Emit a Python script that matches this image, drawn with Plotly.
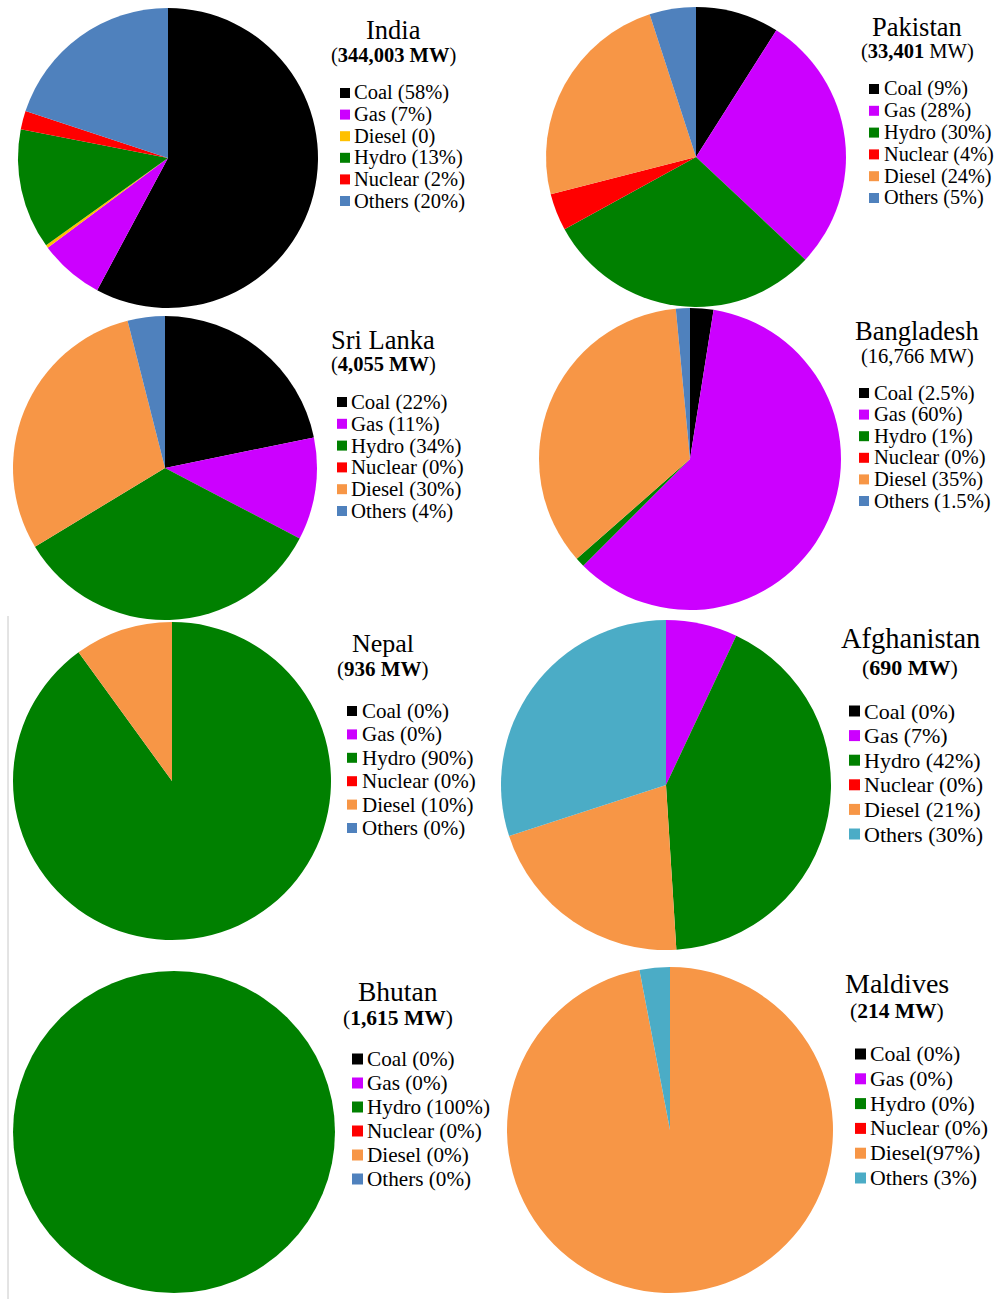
import plotly.graph_objects as go

# ---------------- data ----------------
order_a = ["Coal", "Gas", "Diesel", "Hydro", "Nuclear", "Others"]
order_b = ["Coal", "Gas", "Hydro", "Nuclear", "Diesel", "Others"]

india_vals = [58, 7, 0.3, 13, 2, 20]
india_labels = ["Coal (58%)", "Gas (7%)", "Diesel (0)", "Hydro (13%)", "Nuclear (2%)", "Others (20%)"]

pakistan_vals = [9, 28, 30, 4, 24, 5]
pakistan_labels = ["Coal (9%)", "Gas (28%)", "Hydro (30%)", "Nuclear (4%)", "Diesel (24%)", "Others (5%)"]

srilanka_vals = [22, 11, 34, 0, 30, 4]
srilanka_labels = ["Coal (22%)", "Gas (11%)", "Hydro (34%)", "Nuclear (0%)", "Diesel (30%)", "Others (4%)"]

bangladesh_vals = [2.5, 60, 1, 0, 35, 1.5]
bangladesh_labels = ["Coal (2.5%)", "Gas (60%)", "Hydro (1%)", "Nuclear (0%)", "Diesel (35%)", "Others (1.5%)"]

nepal_vals = [0, 0, 90, 0, 10, 0]
nepal_labels = ["Coal (0%)", "Gas (0%)", "Hydro (90%)", "Nuclear (0%)", "Diesel (10%)", "Others (0%)"]

afghanistan_vals = [0, 7, 42, 0, 21, 30]
afghanistan_labels = ["Coal (0%)", "Gas (7%)", "Hydro (42%)", "Nuclear (0%)", "Diesel (21%)", "Others (30%)"]

bhutan_vals = [0, 0, 100, 0, 0, 0]
bhutan_labels = ["Coal (0%)", "Gas (0%)", "Hydro (100%)", "Nuclear (0%)", "Diesel (0%)", "Others (0%)"]

maldives_vals = [0, 0, 0, 0, 97, 3]
maldives_labels = ["Coal (0%)", "Gas (0%)", "Hydro (0%)", "Nuclear (0%)", "Diesel(97%)", "Others (3%)"]

titles = ["India", "Pakistan", "Sri Lanka", "Bangladesh", "Nepal", "Afghanistan", "Bhutan", "Maldives"]
subtitles = ["(<b>344,003 MW</b>)", "(<b>33,401</b> MW)", "(<b>4,055 MW</b>)", "(16,766 MW)",
             "(<b>936 MW</b>)", "(<b>690 MW</b>)", "(<b>1,615 MW</b>)", "(<b>214 MW</b>)"]

# ---------------- styles ----------------
W, H = 995, 1299
FONT = "Liberation Serif, Times New Roman, serif"
base_colors = {"Coal": "#000000", "Gas": "#CC00FF", "Diesel": "#F79646", "Hydro": "#008000",
               "Nuclear": "#FF0000", "Others": "#4F81BD"}
india_colors = dict(base_colors, Diesel="#FFC000")
teal_colors = dict(base_colors, Others="#4BACC6")

charts = [
    dict(v=india_vals, l=india_labels, o=order_a, c=india_colors, cx=168, cy=158, r=150,
         tx=393, ty=30, ts=26.5, sy=55, ss=20.5, sqx=340, lx=352, ly=93, dy=21.6, fs=20.5),
    dict(v=pakistan_vals, l=pakistan_labels, o=order_b, c=base_colors, cx=696, cy=157, r=150,
         tx=917, ty=27, ts=26.5, sy=52, ss=20.5, sqx=869, lx=882, ly=89, dy=21.8, fs=20.3),
    dict(v=srilanka_vals, l=srilanka_labels, o=order_b, c=base_colors, cx=165, cy=468, r=152,
         tx=383, ty=340, ts=26.5, sy=364, ss=20.5, sqx=337, lx=349, ly=402, dy=21.8, fs=20.8),
    dict(v=bangladesh_vals, l=bangladesh_labels, o=order_b, c=base_colors, cx=690, cy=459, r=151,
         tx=917, ty=331, ts=26.5, sy=356, ss=20.5, sqx=859, lx=872, ly=393, dy=21.6, fs=20.6),
    dict(v=nepal_vals, l=nepal_labels, o=order_b, c=base_colors, cx=172, cy=781, r=159,
         tx=383, ty=643, ts=26, sy=669, ss=21, sqx=347, lx=360, ly=711, dy=23.4, fs=21),
    dict(v=afghanistan_vals, l=afghanistan_labels, o=order_b, c=teal_colors, cx=666, cy=785, r=165,
         tx=910, ty=638, ts=28.5, sy=667, ss=22, sqx=849, lx=862, ly=711, dy=24.6, fs=22),
    dict(v=bhutan_vals, l=bhutan_labels, o=order_b, c=base_colors, cx=174, cy=1132, r=161,
         tx=398, ty=991, ts=27.5, sy=1018, ss=21.5, sqx=352, lx=365, ly=1059, dy=24.0, fs=21.2),
    dict(v=maldives_vals, l=maldives_labels, o=order_b, c=teal_colors, cx=670, cy=1130, r=163,
         tx=897, ty=983, ts=28, sy=1011, ss=21.5, sqx=855, lx=868, ly=1054, dy=24.8, fs=21.8),
]

fig = go.Figure()
annotations = []
shapes = []


def px(x):
    return x / W


def py(y):
    return 1 - y / H


def clamp(v):
    return min(1.0, max(0.0, v))


for i, ch in enumerate(charts):
    cx, cy, r = ch["cx"], ch["cy"], ch["r"]
    fig.add_trace(go.Pie(
        labels=ch["o"], values=ch["v"], sort=False, direction="clockwise", rotation=0,
        marker=dict(colors=[ch["c"][k] for k in ch["o"]], line=dict(width=0)),
        textinfo="none", hoverinfo="label+percent", showlegend=False,
        domain=dict(x=[clamp(px(cx - r)), clamp(px(cx + r))],
                    y=[clamp(py(cy + r)), clamp(py(cy - r))]),
    ))
    annotations.append(dict(x=px(ch["tx"]), y=py(ch["ty"]), xref="paper", yref="paper",
                            text=titles[i], showarrow=False, xanchor="center", yanchor="middle",
                            font=dict(family=FONT, size=ch["ts"], color="#000")))
    annotations.append(dict(x=px(ch["tx"]), y=py(ch["sy"]), xref="paper", yref="paper",
                            text=subtitles[i], showarrow=False, xanchor="center", yanchor="middle",
                            font=dict(family=FONT, size=ch["ss"], color="#000")))
    sq = 10 if ch["fs"] <= 21 else 11
    for j, (name, lab) in enumerate(zip(ch["o"], ch["l"])):
        yy = ch["ly"] + j * ch["dy"]
        shapes.append(dict(type="rect", xref="paper", yref="paper",
                           x0=px(ch["sqx"]), x1=px(ch["sqx"] + sq),
                           y0=py(yy + sq / 2), y1=py(yy - sq / 2),
                           fillcolor=ch["c"][name], line=dict(width=0)))
        annotations.append(dict(x=px(ch["lx"]), y=py(yy), xref="paper", yref="paper",
                                text=lab, showarrow=False, xanchor="left", yanchor="middle",
                                font=dict(family=FONT, size=ch["fs"], color="#000")))

# thin border line at left of the lower panel
shapes.append(dict(type="line", xref="paper", yref="paper", x0=px(8), x1=px(8),
                   y0=0, y1=py(616), line=dict(color="#c8c8c8", width=1)))

fig.update_layout(width=W, height=H, margin=dict(l=0, r=0, t=0, b=0),
                  paper_bgcolor="white", plot_bgcolor="white",
                  annotations=annotations, shapes=shapes)

fig.write_html("out.html", config={"displayModeBar": False},
               post_script="document.body.style.margin='0';document.body.style.overflow='hidden';")
